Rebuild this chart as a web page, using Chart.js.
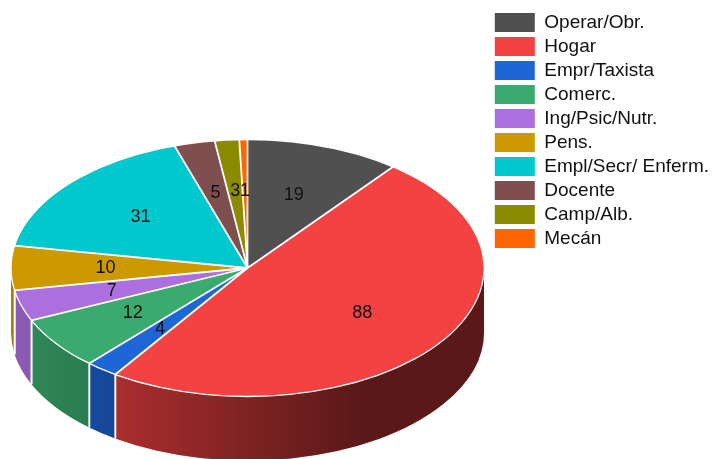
<!DOCTYPE html>
<html>
<head>
<meta charset="utf-8">
<title>Ocupación</title>
<script src="https://cdn.jsdelivr.net/npm/chart.js@4"></script>
<style>
	html, body { margin: 0; padding: 0; background: #fff; }
	canvas { display: block; }
</style>
</head>
<body>
<canvas id="myChart" width="713" height="459"></canvas>
<script>
const categories = ["Operar/Obr.", "Hogar", "Empr/Taxista", "Comerc.", "Ing/Psic/Nutr.", "Pens.",
	"Empl/Secr/ Enferm.", "Docente", "Camp/Alb.", "Mecán"];
const values = [19, 88, 4, 12, 7, 10, 31, 5, 3, 1];
const colors = ["#505050", "#f44242", "#1e66d8", "#3aaa6e", "#ac6fe0", "#cc9900",
	"#00c8cc", "#7f4f4f", "#8b8b00", "#ff6600"];

// tilted disc: ellipse of the top face and height of the side wall
const disc = { x: 247.5, y: 268, rx: 236.5, ry: 128.5, depth: 64 };
const labelRadius = 0.6;
const fontFamily = "'Liberation Sans', Arial, sans-serif";

function arcs(chart) {
	return chart.getDatasetMeta(0).data;
}

// darker towards the right, same ramp for every wall
function wallShade(ctx) {
	const left = disc.x - disc.rx;
	const g = ctx.createLinearGradient(left, 0, disc.x + disc.rx, 0);
	g.addColorStop(0, "rgba(0,0,0,0.18)");
	g.addColorStop(0.22, "rgba(0,0,0,0.3)");
	g.addColorStop(0.74, "rgba(0,0,0,0.63)");
	g.addColorStop(1, "rgba(0,0,0,0.63)");
	return g;
}

function seam(ctx, angle) {
	const x = disc.x + disc.rx * Math.cos(angle);
	const y = disc.y + disc.ry * Math.sin(angle);
	ctx.strokeStyle = "#fff";
	ctx.lineWidth = 1.8;
	ctx.beginPath();
	ctx.moveTo(x, y);
	ctx.lineTo(x, y + disc.depth);
	ctx.stroke();
}

const sideWalls = {
	id: "sideWalls",
	beforeDatasetsDraw(chart) {
		const ctx = chart.ctx;
		const shade = wallShade(ctx);
		ctx.save();
		arcs(chart).forEach((arc, i) => {
			const from = Math.max(arc.startAngle, 0);
			const to = Math.min(arc.endAngle, Math.PI);
			if (to <= from) return;
			const wall = new Path2D();
			wall.ellipse(disc.x, disc.y, disc.rx, disc.ry, 0, from, to);
			wall.ellipse(disc.x, disc.y + disc.depth, disc.rx, disc.ry, 0, to, from, true);
			wall.closePath();
			ctx.fillStyle = colors[i];
			ctx.fill(wall);
			ctx.fillStyle = shade;
			ctx.fill(wall);
			// white seam where the slice ends on the front side
			if (arc.endAngle > 0 && arc.endAngle < Math.PI) seam(ctx, arc.endAngle);
			if (arc.startAngle > 0 && arc.startAngle < Math.PI) seam(ctx, arc.startAngle);
		});
		ctx.restore();
	},
	beforeDatasetDraw(chart) {
		const ctx = chart.ctx;
		const a = arcs(chart)[0];
		ctx.save();
		ctx.translate(disc.x, disc.y);
		ctx.scale(disc.rx / a.outerRadius, disc.ry / a.outerRadius);
		ctx.translate(-a.x, -a.y);
	},
	afterDatasetDraw(chart) {
		chart.ctx.restore();
	},
	afterDatasetsDraw(chart) {
		const ctx = chart.ctx;
		ctx.save();
		ctx.strokeStyle = "#fff";
		// rim of the top face
		ctx.lineWidth = 1.3;
		ctx.beginPath();
		ctx.ellipse(disc.x, disc.y, disc.rx, disc.ry, 0, 0, Math.PI * 2);
		ctx.stroke();
		// slice borders
		ctx.lineWidth = 1.8;
		arcs(chart).forEach(arc => {
			ctx.beginPath();
			ctx.moveTo(disc.x, disc.y);
			ctx.lineTo(disc.x + disc.rx * Math.cos(arc.startAngle), disc.y + disc.ry * Math.sin(arc.startAngle));
			ctx.stroke();
		});
		// value labels
		ctx.fillStyle = "#111";
		ctx.font = "18px " + fontFamily;
		ctx.textAlign = "center";
		ctx.textBaseline = "middle";
		arcs(chart).forEach((arc, i) => {
			const mid = (arc.startAngle + arc.endAngle) / 2;
			ctx.fillText(String(values[i]),
				disc.x + labelRadius * disc.rx * Math.cos(mid),
				disc.y + labelRadius * disc.ry * Math.sin(mid));
		});
		ctx.restore();
	}
};

new Chart(document.getElementById("myChart"), {
	type: "pie",
	data: {
		labels: categories,
		datasets: [{
			data: values,
			backgroundColor: colors,
			borderWidth: 0,
			clip: false
		}]
	},
	options: {
		responsive: false,
		animation: false,
		layout: { padding: { top: 8, right: -6 } },
		plugins: {
			tooltip: { enabled: false },
			legend: {
				position: "right",
				align: "start",
				labels: {
					boxWidth: 40,
					boxHeight: 19,
					padding: 5,
					color: "#111",
					font: { family: fontFamily, size: 19 },
					generateLabels(chart) {
						const items = Chart.overrides.pie.plugins.legend.labels.generateLabels(chart);
						items.forEach(item => { item.lineWidth = 0; });
						return items;
					}
				}
			}
		}
	},
	plugins: [sideWalls]
});
</script>
</body>
</html>
